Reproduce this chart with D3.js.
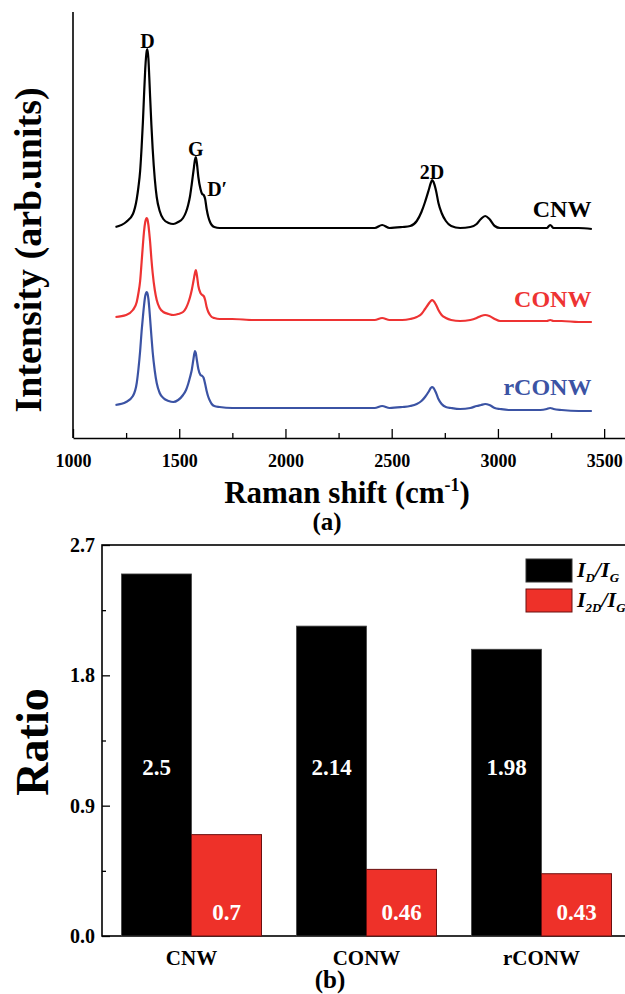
<!DOCTYPE html>
<html>
<head>
<meta charset="utf-8">
<script src="https://cdn.jsdelivr.net/npm/d3@7"></script>
<style>
  body { margin: 0; background: #fff; }
  text { font-family: "Liberation Serif", "Times New Roman", serif; font-weight: bold; }
</style>
</head>
<body>
<div id="chart"></div>
<script>
// Raman spectra (a)
const shifts = [1200, 1250, 1282, 1300, 1308, 1316, 1323, 1329, 1334, 1340, 1347, 1350, 1355, 1359, 1363, 1369, 1375, 1385, 1394, 1408,
  1425, 1450, 1472, 1495, 1518, 1532, 1542, 1551, 1559, 1567, 1574, 1578, 1583, 1590, 1600, 1608, 1615, 1622, 1629, 1637,
  1645, 1653, 1665, 1690, 1750, 1850, 1950, 2050, 2150, 2250, 2350, 2420, 2455, 2490, 2550, 2587, 2618, 2640, 2657, 2673,
  2684, 2690, 2697, 2709, 2720, 2735, 2755, 2780, 2822, 2870, 2900, 2920, 2940, 2960, 2985, 3010, 3050, 3120, 3200, 3230,
  3246, 3262, 3300, 3380, 3442];
const cnw = [0, 5, 13, 28, 40, 56, 80, 105, 130, 158, 176, 178, 168, 150, 130, 102, 78, 48, 30, 16,
  8, 4, 3, 5, 9, 15, 22, 31, 43, 56, 67, 70, 64, 50, 38, 33, 32, 28, 18, 10,
  5, 2, 0, -1, -1, -1, -1, -1, -1, -1, -1, -1, 2, -1, 0, 1, 6, 15, 25, 36,
  44, 47, 45, 36, 24, 14, 6, 1, -1, 0, 3, 8, 11, 8, 1, -1, -1, -1, -1, -1,
  2, -1, -1, -1, -2];
const conw = [0, 2, 7, 15, 24, 36, 55, 72, 85, 95, 99, 98, 92, 84, 75, 58, 44, 27, 17, 9,
  5, 3, 2, 3, 5, 9, 14, 20, 27, 36, 44, 47, 42, 31, 24, 22, 21, 17, 10, 5,
  2, 0, -1, -2, -2, -3, -3, -3, -3, -3, -3, -3, -1, -3, -3, -2, 0, 3, 8, 13,
  16, 17, 16, 12, 7, 2, -1, -3, -4, -3, -1, 1, 2, 1, -2, -4, -4, -4, -4, -4,
  -3, -4, -4, -5, -5];
const rconw = [0, 3, 9, 22, 36, 54, 74, 88, 99, 109, 113, 112, 106, 97, 86, 69, 53, 34, 22, 12,
  7, 4, 3, 5, 10, 15, 21, 28, 35, 46, 54, 52, 45, 36, 30, 29, 27, 21, 14, 8,
  4, 1, -1, -2, -3, -3, -3, -3, -3, -3, -3, -3, -1, -3, -2, -1, 1, 4, 8, 13,
  17, 18, 17, 12, 6, 1, -2, -3, -4, -3, -1, 0, 1, 0, -3, -4, -5, -5, -5, -4,
  -3, -4, -5, -6, -6];
const spectraNames = ["CNW", "CONW", "rCONW"];
const spectraOffsets = [211, 121, 33];
const spectraColors = ["#000000", "#ee3333", "#3b53a4"];
const shiftTicks = [1000, 1500, 2000, 2500, 3000, 3500];
const shiftMinorTicks = [1250, 1750, 2250, 2750, 3250];
const peakNames = ["D", "G", "D\u2032", "2D"];
const peakShifts = [1350, 1578, 1622, 2690];

// Ratio bars (b)
const categories = ["CNW", "CONW", "rCONW"];
const ratioDG = [2.5, 2.14, 1.98];
const ratio2DG = [0.7, 0.46, 0.43];
const ratioTicks = [0, 0.9, 1.8, 2.7];
const ratioMinorTicks = [0.45, 1.35, 2.25];

const WIDTH = 625, HEIGHT = 994;

const svg = d3.select("#chart").append("svg")
  .attr("width", WIDTH)
  .attr("height", HEIGHT);

// ---------- panel (a)
const x = d3.scaleLinear().domain([1000, 3600]).range([73, 625.4]);
const y = d3.scaleLinear().domain([0, 426]).range([438, 12]);

const ga = svg.append("g");

ga.append("g")
  .attr("transform", "translate(0,438)")
  .call(d3.axisBottom(x).tickValues(shiftTicks).tickSize(-9).tickSizeOuter(0).tickPadding(16).tickFormat(d3.format("d")))
  .call(g => g.selectAll("text").attr("font-size", "18px").attr("fill", "#000"))
  .call(g => g.select(".domain").attr("stroke-width", 1.6));

ga.append("g")
  .attr("transform", "translate(0,438)")
  .call(d3.axisBottom(x).tickValues(shiftMinorTicks).tickSize(-5).tickFormat(""))
  .call(g => g.select(".domain").remove());

ga.selectAll(".tick line").attr("stroke-width", 1.3);

ga.append("line")
  .attr("x1", x(1000)).attr("x2", x(1000))
  .attr("y1", y(426)).attr("y2", y(0))
  .attr("stroke", "#000").attr("stroke-width", 1.6);

const line = d3.line()
  .x(d => x(d[0]))
  .y(d => y(d[1]))
  .curve(d3.curveMonotoneX);

[cnw, conw, rconw].forEach((s, i) => {
  const pts = shifts.map((sh, j) => [sh, s[j] + spectraOffsets[i]]);
  ga.append("path")
    .datum(pts)
    .attr("fill", "none")
    .attr("stroke", spectraColors[i])
    .attr("stroke-width", 2.2)
    .attr("stroke-linejoin", "round")
    .attr("d", line);

  ga.append("text")
    .attr("x", x(3440))
    .attr("y", y(spectraOffsets[i] + 10))
    .attr("text-anchor", "end")
    .attr("font-size", "24px")
    .attr("fill", spectraColors[i])
    .text(spectraNames[i]);
});

// peak labels on the CNW curve
peakNames.forEach((name, i) => {
  const j = shifts.indexOf(peakShifts[i]);
  const py = y(cnw[j] + spectraOffsets[0]);
  const prime = name === "D\u2032";
  ga.append("text")
    .attr("x", prime ? x(peakShifts[i]) + 2 : x(peakShifts[i]))
    .attr("y", prime ? py - 3 : py - 1)
    .attr("text-anchor", prime ? "start" : "middle")
    .attr("font-size", "20px")
    .text(name);
});

ga.append("text")
  .attr("transform", "translate(41,250) rotate(-90)")
  .attr("text-anchor", "middle")
  .attr("font-size", "38px")
  .text("Intensity (arb.units)");

const xt = ga.append("text")
  .attr("x", 347)
  .attr("y", 503)
  .attr("text-anchor", "middle")
  .attr("font-size", "31px");
xt.append("tspan").text("Raman shift (cm");
xt.append("tspan").attr("font-size", "18px").attr("dy", "-12").text("-1");
xt.append("tspan").attr("dy", "12").text(")");

ga.append("text")
  .attr("x", 327).attr("y", 530)
  .attr("text-anchor", "middle")
  .attr("font-size", "25px")
  .text("(a)");

// ---------- panel (b)
const yb = d3.scaleLinear().domain([0, 2.7]).range([936, 545]);
const x0 = d3.scaleBand().domain(categories).range([104, 629]).paddingInner(0.2).paddingOuter(0.1);
const x1 = d3.scaleBand().domain(["dg", "2dg"]).range([0, x0.bandwidth()]);

const gb = svg.append("g");

gb.append("rect")
  .attr("x", 102).attr("y", yb(2.7))
  .attr("width", 560).attr("height", yb(0) - yb(2.7))
  .attr("fill", "none").attr("stroke", "#000").attr("stroke-width", 1.6);

const groups = gb.selectAll(".grp")
  .data(categories)
  .enter().append("g")
  .attr("transform", d => `translate(${x0(d)},0)`);

groups.append("rect")
  .attr("x", x1("dg"))
  .attr("y", (d, i) => yb(ratioDG[i]))
  .attr("width", x1.bandwidth())
  .attr("height", (d, i) => yb(0) - yb(ratioDG[i]))
  .attr("fill", "#000")
  .attr("stroke", "#444").attr("stroke-width", 0.8);

groups.append("rect")
  .attr("x", x1("2dg"))
  .attr("y", (d, i) => yb(ratio2DG[i]))
  .attr("width", x1.bandwidth())
  .attr("height", (d, i) => yb(0) - yb(ratio2DG[i]))
  .attr("fill", "#ee3129")
  .attr("stroke", "#6b1010").attr("stroke-width", 1);

groups.append("text")
  .attr("x", x1("dg") + x1.bandwidth() / 2)
  .attr("y", 775)
  .attr("text-anchor", "middle")
  .attr("font-size", "23px")
  .attr("fill", "#fff")
  .text((d, i) => ratioDG[i]);

groups.append("text")
  .attr("x", x1("2dg") + x1.bandwidth() / 2)
  .attr("y", 920)
  .attr("text-anchor", "middle")
  .attr("font-size", "23px")
  .attr("fill", "#fff")
  .text((d, i) => ratio2DG[i]);

gb.append("g")
  .attr("transform", "translate(102,0)")
  .call(d3.axisLeft(yb).tickValues(ratioTicks).tickSize(-8).tickSizeOuter(0).tickPadding(7).tickFormat(d3.format(".1f")))
  .call(g => g.select(".domain").remove())
  .call(g => g.selectAll("text").attr("font-size", "20px").attr("fill", "#000"))
  .call(g => g.selectAll("line").attr("stroke-width", 1.3));

gb.append("g")
  .attr("transform", "translate(102,0)")
  .call(d3.axisLeft(yb).tickValues(ratioMinorTicks).tickSize(-4).tickFormat(""))
  .call(g => g.select(".domain").remove())
  .call(g => g.selectAll("line").attr("stroke-width", 1.3));

gb.append("g")
  .attr("transform", "translate(0,936)")
  .call(d3.axisBottom(x0).tickSize(0).tickPadding(14))
  .call(g => g.select(".domain").remove())
  .call(g => g.selectAll("text").attr("font-size", "21px").attr("fill", "#000"));

gb.append("text")
  .attr("transform", "translate(48,742) rotate(-90)")
  .attr("text-anchor", "middle")
  .attr("font-size", "46px")
  .text("Ratio");

gb.append("text")
  .attr("x", 330).attr("y", 988)
  .attr("text-anchor", "middle")
  .attr("font-size", "25px")
  .text("(b)");

// legend
const legendFills = ["#000", "#ee3129"];
const legendSubs = ["D", "2D"];
legendSubs.forEach((sub, i) => {
  const ly = 559 + i * 30;
  gb.append("rect")
    .attr("x", 526).attr("y", ly)
    .attr("width", 46).attr("height", 23)
    .attr("fill", legendFills[i])
    .attr("stroke", i ? "#6b1010" : "#333").attr("stroke-width", 1);
  const t = gb.append("text")
    .attr("x", 577).attr("y", ly + 18)
    .attr("font-size", "22px")
    .attr("font-style", "italic");
  t.append("tspan").text("I");
  t.append("tspan").attr("font-size", "13px").attr("dy", "5").text(sub);
  t.append("tspan").attr("dy", "-5").text("/I");
  t.append("tspan").attr("font-size", "13px").attr("dy", "5").text("G");
});
</script>
</body>
</html>
